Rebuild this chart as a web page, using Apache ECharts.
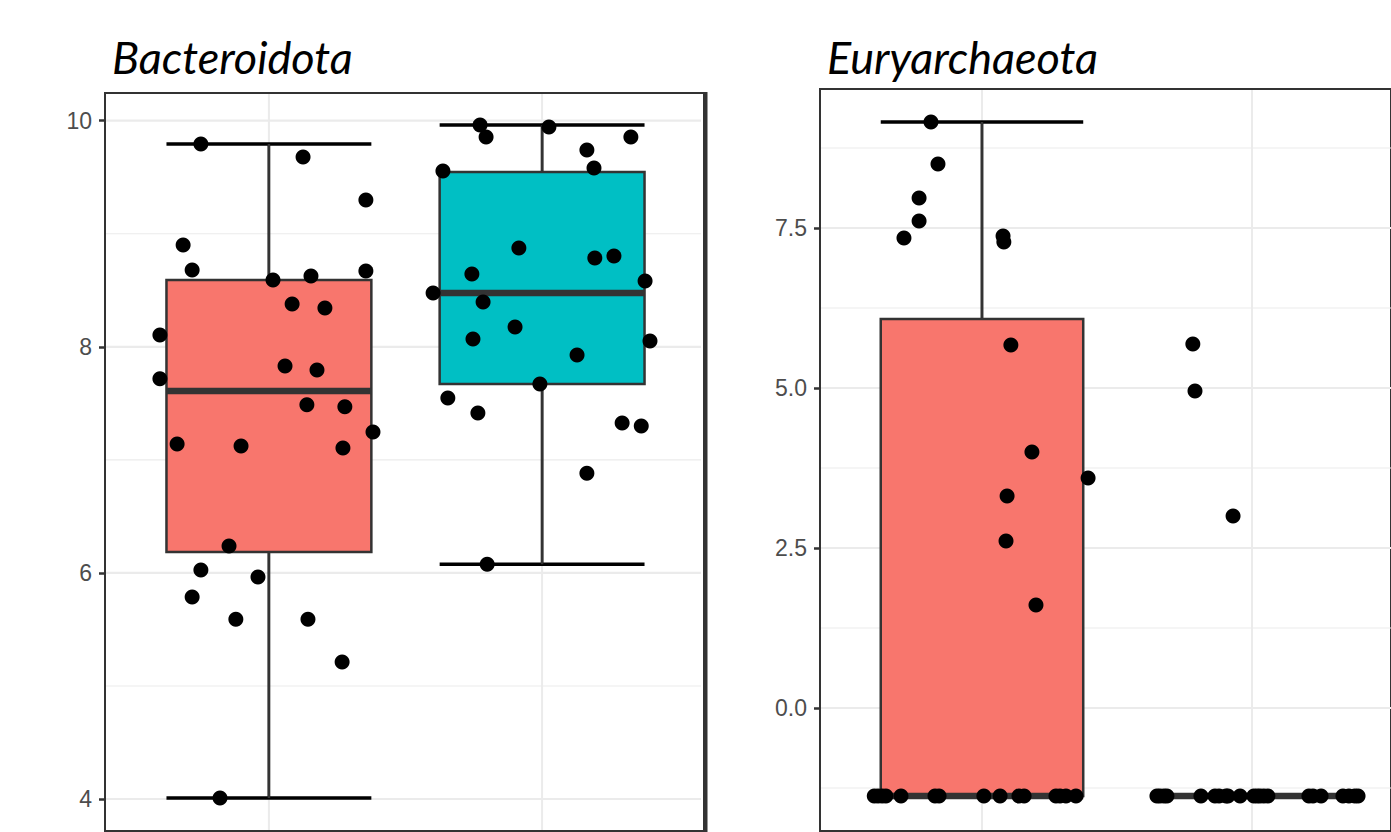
<!DOCTYPE html>
<html><head><meta charset="utf-8">
<script src="https://cdn.jsdelivr.net/npm/echarts@6/dist/echarts.min.js"></script>
<style>html,body{margin:0;padding:0;background:#fff}#chart{width:1391px;height:832px}</style>
</head><body><div id="chart"></div>
<script>
// ---------- data ----------
const panelTitles = ['Bacteroidota', 'Euryarchaeota'];
const groupColors = ['#F8766D', '#00BFC4'];
const groupPositions = [1, 2];

// Bacteroidota
const bactYTicks = [4, 6, 8, 10];
const bactYMinor = [5, 7, 9];
const bactG1Values = [9.794, 9.679, 9.299, 8.901, 8.680, 8.591, 8.626, 8.671, 8.378, 8.343, 8.104, 7.830, 7.794, 7.717,
  7.487, 7.469, 7.247, 7.141, 7.123, 7.105, 6.238, 6.025, 5.963, 5.786, 5.591, 5.591, 5.211, 4.008];
const bactG1Jitter = [-0.249, 0.125, 0.355, -0.314, -0.281, 0.015, 0.154, 0.355, 0.085, 0.205, -0.399, 0.059, 0.176, -0.399,
  0.139, 0.278, 0.381, -0.336, -0.102, 0.271, -0.146, -0.249, -0.040, -0.281, -0.121, 0.143, 0.268, -0.179];
const bactG2Values = [9.962, 9.944, 9.856, 9.856, 9.741, 9.582, 9.555, 8.874, 8.803, 8.786, 8.644, 8.582, 8.476,
  8.397, 8.175, 8.069, 8.051, 7.928, 7.671, 7.548, 7.415, 7.326, 7.299, 6.882, 6.077];
const bactG2Jitter = [-0.227, 0.025, -0.205, 0.325, 0.164, 0.190, -0.363, -0.085, 0.263, 0.193, -0.257, 0.377, -0.399,
  -0.216, -0.099, -0.253, 0.395, 0.128, -0.008, -0.345, -0.235, 0.293, 0.363, 0.164, -0.201];
// [lower whisker, Q1, median, Q3, upper whisker]
const bactG1Box = [4.008, 6.185, 7.609, 8.591, 9.794];
const bactG2Box = [6.077, 7.671, 8.476, 9.546, 9.962];

// Euryarchaeota
const euryYTicks = [0, 2.5, 5, 7.5];
const euryYMinor = [-1.25, 1.25, 3.75, 6.25, 8.75];
const euryG1Values = [9.156, 8.500, 7.969, 7.609, 7.344, 7.375, 7.281, 5.672, 4.000, 3.594, 3.313, 2.609, 1.609,
  -1.375, -1.375, -1.375, -1.375, -1.375, -1.375, -1.375, -1.375, -1.375, -1.375, -1.375, -1.375, -1.375, -1.375, -1.375];
const euryG1Jitter = [-0.189, -0.163, -0.233, -0.233, -0.289, 0.078, 0.081, 0.107, 0.185, 0.393, 0.093, 0.089, 0.200,
  -0.399, -0.385, -0.370, -0.356, -0.300, -0.174, -0.159, 0.007, 0.067, 0.137, 0.156, 0.274, 0.289, 0.311, 0.348];
const euryG2Values = [5.688, 4.953, 3.000,
  -1.375, -1.375, -1.375, -1.375, -1.375, -1.375, -1.375, -1.375, -1.375, -1.375, -1.375,
  -1.375, -1.375, -1.375, -1.375, -1.375, -1.375, -1.375, -1.375, -1.375, -1.375, -1.375];
const euryG2Jitter = [-0.219, -0.211, -0.070,
  -0.352, -0.341, -0.326, -0.315, -0.189, -0.137, -0.122, -0.096, -0.089, -0.044, 0.007,
  0.019, 0.030, 0.044, 0.059, 0.211, 0.226, 0.256, 0.337, 0.359, 0.381, 0.393];
const euryG1Box = [-1.375, -1.375, -1.375, 6.078, 9.156];
const euryG2Box = [-1.375, -1.375, -1.375, -1.375, -1.375];

// ---------- styling ----------
const BOX_W = 0.75;
const DARK = '#333333';
const GRID_COL = '#EBEBEB';

const panels = [
  { title: panelTitles[0], yTicks: bactYTicks, yMinor: bactYMinor, yMin: 3.717, yMax: 10.245, xMax: 2.6,
    fmt: v => String(v), groups: [[bactG1Values, bactG1Jitter, bactG1Box], [bactG2Values, bactG2Jitter, bactG2Box]],
    grid: { left: 105, top: 93, width: 601, height: 738 }, titleX: 112, rightInset: 5 },
  { title: panelTitles[1], yTicks: euryYTicks, yMinor: euryYMinor, yMin: -1.922, yMax: 9.672, xMax: 2.515,
    fmt: v => v.toFixed(1), groups: [[euryG1Values, euryG1Jitter, euryG1Box], [euryG2Values, euryG2Jitter, euryG2Box]],
    grid: { left: 820, top: 89, right: 0, height: 742 }, titleX: 827, rightInset: 0 }
];

function makeGridRender(inset) {
  return function (params, api) {
    const cs = params.coordSys;
    const kind = api.value(1);
    const v = api.value(0);
    if (kind === 2) {
      const p = api.coord([v, api.value(2)]);
      return { type: 'line', shape: { x1: p[0], y1: cs.y + 1, x2: p[0], y2: cs.y + cs.height - 1 },
        style: { stroke: GRID_COL, lineWidth: 2 } };
    }
    const p = api.coord([1, v]);
    return { type: 'line', shape: { x1: cs.x + 1, y1: p[1], x2: cs.x + cs.width - inset, y2: p[1] },
      style: { stroke: GRID_COL, lineWidth: kind === 0 ? 2.2 : 1.1 } };
  };
}

function boxRender(params, api) {
  const x = api.value(0);
  const lo = api.coord([x, api.value(1)]);
  const q1 = api.coord([x, api.value(2)]);
  const med = api.coord([x, api.value(3)]);
  const q3 = api.coord([x, api.value(4)]);
  const hi = api.coord([x, api.value(5)]);
  const hw = api.size([BOX_W, 0])[0] / 2;
  const cx = q1[0];
  const fill = groupColors[params.dataIndex];
  return { type: 'group', children: [
    { type: 'line', shape: { x1: cx, y1: hi[1], x2: cx, y2: lo[1] }, style: { stroke: '#000', lineWidth: 2.5 } },
    { type: 'line', shape: { x1: cx - hw, y1: hi[1], x2: cx + hw, y2: hi[1] }, style: { stroke: '#000', lineWidth: 3.5 } },
    { type: 'line', shape: { x1: cx - hw, y1: lo[1], x2: cx + hw, y2: lo[1] }, style: { stroke: '#000', lineWidth: 3.5 } },
    { type: 'line', shape: { x1: cx, y1: hi[1], x2: cx, y2: q3[1] }, style: { stroke: DARK, lineWidth: 2.5 } },
    { type: 'line', shape: { x1: cx, y1: q1[1], x2: cx, y2: lo[1] }, style: { stroke: DARK, lineWidth: 2.5 } },
    { type: 'rect', shape: { x: cx - hw, y: q3[1], width: 2 * hw, height: q1[1] - q3[1] },
      style: { fill: fill, stroke: DARK, lineWidth: 2.5 } },
    { type: 'line', shape: { x1: cx - hw, y1: med[1], x2: cx + hw, y2: med[1] }, style: { stroke: DARK, lineWidth: 6.5 } }
  ] };
}

const option = { animation: false, backgroundColor: '#fff', grid: [], xAxis: [], yAxis: [], series: [], graphic: [] };

panels.forEach((p, i) => {
  option.grid.push(Object.assign({ show: true, borderColor: DARK, borderWidth: 2, backgroundColor: '#fff', containLabel: false }, p.grid));
  option.xAxis.push({ gridIndex: i, type: 'value', min: 0.4, max: p.xMax, show: false });
  option.yAxis.push({ gridIndex: i, type: 'value', min: p.yMin, max: p.yMax,
    axisLine: { show: false },
    axisTick: { show: true, length: 6, lineStyle: { color: DARK, width: 2.5 }, customValues: p.yTicks },
    axisLabel: { show: true, customValues: p.yTicks, formatter: p.fmt, margin: 13,
      color: '#4D4D4D', fontSize: 23, fontFamily: 'Liberation Sans, Arial, sans-serif' },
    splitLine: { show: false }, minorSplitLine: { show: false } });
  const gridData = [];
  p.yTicks.forEach(v => gridData.push([v, 0, 0]));
  p.yMinor.forEach(v => gridData.push([v, 1, 0]));
  groupPositions.forEach(v => gridData.push([v, 2, p.yMin]));
  option.series.push({ type: 'custom', xAxisIndex: i, yAxisIndex: i, renderItem: makeGridRender(p.rightInset), data: gridData, z: 1, silent: true });
  option.series.push({ type: 'custom', xAxisIndex: i, yAxisIndex: i, renderItem: boxRender, z: 2, silent: true,
    data: p.groups.map((g, gi) => [groupPositions[gi]].concat(g[2])) });
  p.groups.forEach((g, gi) => {
    option.series.push({ type: 'scatter', xAxisIndex: i, yAxisIndex: i, z: 3, symbolSize: 15, silent: true,
      itemStyle: { color: '#000', opacity: 1 },
      data: g[0].map((v, k) => [groupPositions[gi] + g[1][k], v]) });
  });
  option.graphic.push({ type: 'text', left: p.titleX, top: 34, silent: true,
    style: { text: p.title, fontFamily: 'Lato', fontStyle: 'italic', fontSize: 45, fill: '#000' } });
});
option.graphic.push({ type: 'rect', left: 703, top: 92, z: 100, silent: true, shape: { width: 4.5, height: 740 }, style: { fill: DARK } });

const chart = echarts.init(document.getElementById('chart'), null, { renderer: 'svg' });
chart.setOption(option);
</script></body></html>
